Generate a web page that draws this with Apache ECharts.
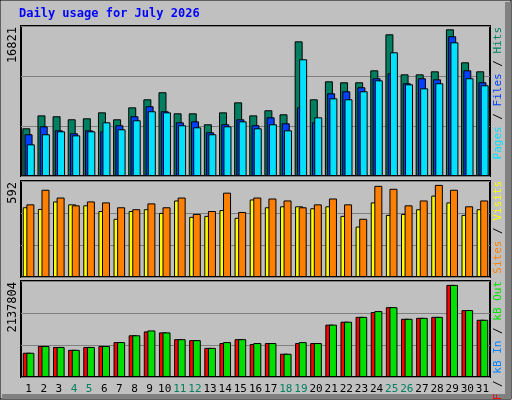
<!DOCTYPE html>
<html><head><meta charset="utf-8">
<script src="https://cdn.jsdelivr.net/npm/echarts@6/dist/echarts.min.js"></script>
<style>body{margin:0;background:#c0c0c0}#c{width:512px;height:400px}</style>
</head><body><div id="c"></div>
<script>
const days = ['1','2','3','4','5','6','7','8','9','10','11','12','13','14','15','16','17','18','19','20','21','22','23','24','25','26','27','28','29','30','31'];
const weekends = ['4','5','11','12','18','19','25','26'];
const hits = [5350,6800,6700,6360,6470,7140,6360,7700,8600,9390,7030,7030,5800,7140,8260,6800,7370,6920,15100,8600,10620,10510,10510,11850,15890,11400,11400,11740,16450,12750,11740];
const files = [4680,5570,5120,4790,5120,5010,5690,6700,7820,7260,6020,6130,4900,5800,6360,5690,6580,5910,7700,6020,9270,9500,9950,10960,11520,10400,10960,10840,15670,11850,10510];
const pages = [3550,4680,5010,4560,5010,6020,5240,6250,7260,7140,5690,5460,4680,5570,6130,5350,5800,5120,13090,6580,8710,8600,9500,10730,13870,10280,9830,10400,14990,10960,10170];
const visits = [430,420,466,448,442,407,359,407,418,395,472,371,377,413,365,478,430,436,436,424,436,377,311,460,383,389,418,502,460,383,418];
const sites = [448,538,490,442,466,460,430,418,454,430,490,389,407,520,401,490,484,472,430,448,484,448,359,562,544,442,472,568,538,436,472];
const kbF = [540,691,669,605,669,691,777,929,1015,993,842,821,648,756,842,734,756,518,756,756,1166,1231,1339,1447,1555,1296,1317,1339,2051,1490,1274].map(v=>v*1000);
const kbOut = [540,691,669,605,669,691,777,929,1037,993,842,821,648,777,842,756,756,518,777,756,1166,1231,1339,1468,1555,1296,1317,1339,2051,1490,1274].map(v=>v*1000);
const maxHits = 16821, maxVisits = 592, maxKb = 2137804;

const chart = echarts.init(document.getElementById('c'));
const L = 21, W = 469;
const grids = [{left:L,width:W,top:26,height:150},{left:L,width:W,top:181,height:96},{left:L,width:W,top:281,height:96}];
const xa = i => ({type:'category',gridIndex:i,data:days,axisTick:{show:false},axisLine:{show:false},
  axisLabel:{show:i===2,interval:0,margin:7,fontFamily:'DejaVu Sans Mono',fontSize:11,
    formatter:v=>weekends.includes(v)?'{w|'+v+'}':'{n|'+v+'}',rich:{w:{color:'#008060',fontFamily:'DejaVu Sans Mono',fontSize:11},n:{color:'#000',fontFamily:'DejaVu Sans Mono',fontSize:11}}}});
const ya = (i,m) => ({type:'value',gridIndex:i,min:0,max:m,interval:m/3,axisLabel:{show:false},axisLine:{show:false},axisTick:{show:false},splitLine:{lineStyle:{color:'#808080',width:1}}});
const bar = (name,data,i,color,gap) => ({name,type:'bar',data,xAxisIndex:i,yAxisIndex:i,barWidth:8,barGap:gap,
  itemStyle:{color,borderColor:'#000',borderWidth:1},animation:false});
const vt = (x,y,parts) => ({type:'text',x,y,rotation:Math.PI/2,style:{rich:Object.fromEntries(parts.map((p,k)=>['s'+k,{fill:p[1],font:'11px DejaVu Sans Mono'}])),text:parts.map((p,k)=>'{s'+k+'|'+p[0]+'}').join(''),align:'right',verticalAlign:'middle',font:'11px DejaVu Sans Mono'}});
chart.setOption({
  backgroundColor:'#c0c0c0',animation:false,
  grid:grids.map(g=>Object.assign({show:true,backgroundColor:'#c0c0c0',borderColor:'#000',borderWidth:2},g)),
  xAxis:[xa(0),xa(1),xa(2)],
  yAxis:[ya(0,maxHits),ya(1,maxVisits),ya(2,maxKb)],
  series:[
    bar('Hits',hits,0,'#008060','-72%'),bar('Files',files,0,'#0040ff','-72%'),bar('Pages',pages,0,'#00e0ff','-72%'),
    bar('Visits',visits,1,'#ffff00','-55%'),bar('Sites',sites,1,'#ff8000','-55%'),
    bar('kB F',kbF,2,'#ff0000','-55%'),bar('kB Out',kbOut,2,'#00e000','-55%')
  ],
  graphic:[
    {type:'rect',shape:{x:0,y:0,width:511,height:399},style:{fill:'none',stroke:'#000',lineWidth:1}},
    {type:'rect',shape:{x:505,y:2,width:6,height:397},style:{fill:'#808080'}},
    {type:'rect',shape:{x:2,y:394,width:509,height:5},style:{fill:'#808080'}},
    {type:'text',left:19,top:8,style:{text:'Daily usage for July 2026',fill:'#0000ff',font:'bold 12px DejaVu Sans Mono'}},
    {type:'text',x:13,y:27,rotation:Math.PI/2,style:{text:'16821',fill:'#000',font:'12px DejaVu Sans Mono',align:'right',verticalAlign:'middle'}},
    {type:'text',x:13,y:182,rotation:Math.PI/2,style:{text:'592',fill:'#000',font:'12px DejaVu Sans Mono',align:'right',verticalAlign:'middle'}},
    {type:'text',x:13,y:282,rotation:Math.PI/2,style:{text:'2137804',fill:'#000',font:'12px DejaVu Sans Mono',align:'right',verticalAlign:'middle'}},
    vt(498,27,[['Pages','#00e0ff'],[' / ','#000'],['Files','#0040ff'],[' / ','#000'],['Hits','#008060']]),
    vt(498,181,[['Sites','#ff8000'],[' / ','#000'],['Visits','#ffff00']]),
    vt(498,281,[['kB F','#ff0000'],[' / ','#000'],['kB In','#0080ff'],[' / ','#000'],['kB Out','#00e000']])
  ]
});
</script></body></html>
